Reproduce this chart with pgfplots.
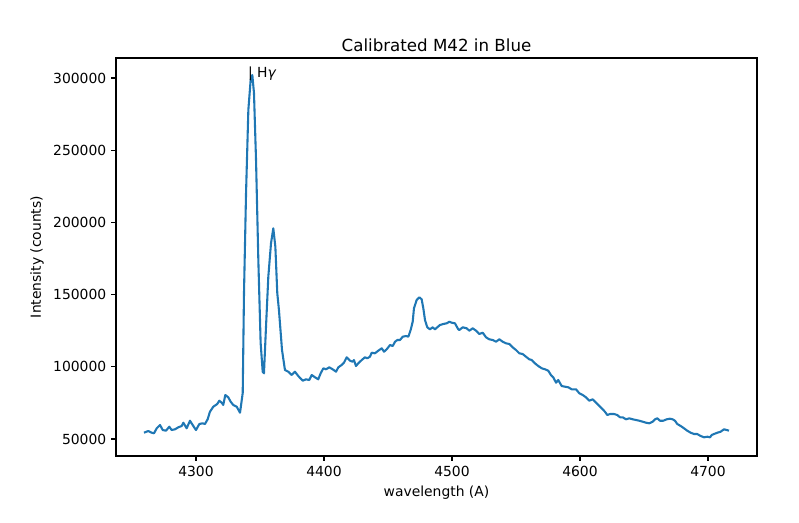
\documentclass[border=0pt]{standalone}
\usepackage{fontspec}
\setmainfont{DejaVu Sans}
\usepackage{pgfplots}
\pgfplotsset{compat=1.18}
\definecolor{tabblue}{HTML}{1F77B4}
\begin{document}
\begin{tikzpicture}[x=1pt,y=1pt]
\path[use as bounding box] (0,0) rectangle (575.28,375.84);
\begin{axis}[
  at={(83.52pt,47.52pt)}, anchor=south west,
  width=461.52pt, height=286.56pt, scale only axis,
  xmin=4237.5, xmax=4738.3, ymin=38230, ymax=313840,
  xtick={4300,4400,4500,4600,4700},
  ytick={50000,100000,150000,200000,250000,300000},
  scaled ticks=false,
  tick pos=left,
  tick align=outside, major tick length=3.5pt,
  tick style={black, line width=0.8pt},
  axis line style={line width=0.8pt},
  /pgf/number format/.cd, fixed, precision=0, set thousands separator={}, assume math mode=true,
  /pgfplots/.cd,
  tick label style={font=\fontsize{10}{12}\selectfont},
  title={Calibrated M42 in Blue},
  title style={at={(axis description cs:0.5,1)}, anchor=base, yshift=-1.3pt, inner sep=0pt, font=\fontsize{12}{14.4}\selectfont},
  xlabel={wavelength (A)},
  ylabel={Intensity (counts)},
  label style={font=\fontsize{10}{12}\selectfont},
]
\addplot[tabblue, line width=1.5pt, line join=round] coordinates {
(4259.4,54363) (4262.7,55540) (4265.4,54363) (4267.2,53950) (4269.3,57410)
(4271.9,59700) (4274.0,56230) (4276.6,55750) (4279.1,58520) (4281.0,56230)
(4283.6,56720) (4286.2,58100) (4288.8,59000) (4290.1,61290) (4292.7,57410)
(4295.3,62670) (4297.4,59700) (4300.0,56230) (4302.6,60390) (4305.2,60870)
(4307.0,60390) (4309.1,63640) (4310.9,68900) (4313.5,72370) (4316.6,74240)
(4318.2,76520) (4320.1,75140) (4321.3,73550) (4322.9,80470) (4325.2,78880)
(4327.1,75830) (4329.1,73550) (4331.8,72370) (4334.4,68210)
(4336.5,81860) (4337.5,151100) (4339.1,220360) (4340.9,277830) (4342.7,298600)
(4344.0,302070) (4345.3,289600) (4346.9,243210) (4348.7,173960) (4350.5,116480)
(4352.1,96610) (4353.1,95500) (4354.7,127770) (4356.5,162390) (4358.6,185520)
(4360.4,195910) (4362.0,183170) (4363.5,151100) (4364.8,139330) (4367.2,111630)
(4369.5,97780)
(4372.1,96610) (4374.8,94320) (4377.3,96610) (4379.9,93630) (4383.4,90370)
(4385.9,91340) (4388.5,90860) (4390.4,94320) (4393.0,92730) (4395.5,91340)
(4397.4,95500) (4399.5,98960) (4401.6,98270) (4404.1,99650) (4406.8,98270)
(4409.4,96610) (4411.2,99650) (4413.8,101250) (4415.6,102840) (4417.7,106580)
(4420.3,104220) (4422.4,103530) (4423.4,104710) (4425.0,100550) (4426.8,102420)
(4429.5,104710) (4432.0,106580) (4433.8,105890) (4435.9,106990) (4437.3,109760)
(4439.8,109350) (4442.4,111150) (4445.1,112810) (4446.9,110450) (4449.0,112120)
(4451.6,115100) (4453.7,114400) (4455.5,117380) (4457.3,118560) (4459.4,118560)
(4461.5,120840) (4464.1,121330) (4465.9,120840) (4467.7,125480) (4469.3,131230)
(4470.3,140510) (4472.4,146260) (4474.5,148130) (4476.3,146740) (4477.6,140510)
(4478.9,132410) (4480.7,127350) (4482.8,125970) (4484.9,127350) (4486.7,125970)
(4488.5,127350) (4490.6,128950) (4493.2,129640) (4495.9,130120) (4497.9,131230)
(4499.8,130540) (4502.3,130120) (4504.9,125970) (4505.7,125480) (4508.4,127350)
(4511.5,126660) (4513.5,125000) (4516.2,126660) (4518.8,125000) (4521.3,122710)
(4524.0,123610) (4526.6,120430) (4529.1,119040) (4531.8,118560) (4534.4,117380)
(4537.0,119040) (4539.6,117380) (4542.2,116270) (4544.8,115790) (4547.4,113500)
(4550.0,111630) (4552.6,109350) (4555.2,108860) (4557.8,106990) (4560.4,105190)
(4562.3,104710) (4564.8,102420) (4567.4,100550) (4570.1,98960) (4572.7,98270)
(4575.2,97300) (4577.3,94320) (4579.1,92730) (4581.3,88990) (4583.0,90860)
(4585.7,86700) (4588.3,86220) (4590.9,85800) (4593.5,84420) (4596.9,84420)
(4599.5,81650) (4602.1,80470) (4604.7,78880) (4607.3,76520) (4609.9,77490)
(4612.5,75140) (4615.1,72850) (4617.7,70570) (4619.5,68900) (4621.3,66620)
(4623.4,67310) (4626.6,67310) (4629.1,66620) (4631.3,65030) (4633.4,65030)
(4635.9,63640) (4638.5,64330) (4641.2,63640) (4643.8,63160) (4646.3,62670)
(4649.0,61980) (4651.6,61290) (4654.1,60870) (4656.8,61980) (4658.6,63640)
(4660.4,64330) (4662.5,62670) (4665.1,62670) (4667.7,63640) (4670.3,64060)
(4672.4,63640) (4674.2,62670) (4676.0,60390) (4678.7,59000) (4681.3,57410)
(4683.8,55750) (4686.5,54360) (4689.1,53460) (4691.6,53460) (4694.3,52080)
(4696.9,51180) (4699.5,51590) (4701.6,51180) (4702.9,52770) (4704.7,53460)
(4707.3,54360) (4709.9,55060) (4712.5,56720) (4714.6,56230) (4716.4,55750)
};
\node[anchor=base west, inner sep=0pt, font=\fontsize{10}{12}\selectfont] at (axis cs:4340.47,300000) {| H{\itshape γ}};
\end{axis}
\end{tikzpicture}
\end{document}
